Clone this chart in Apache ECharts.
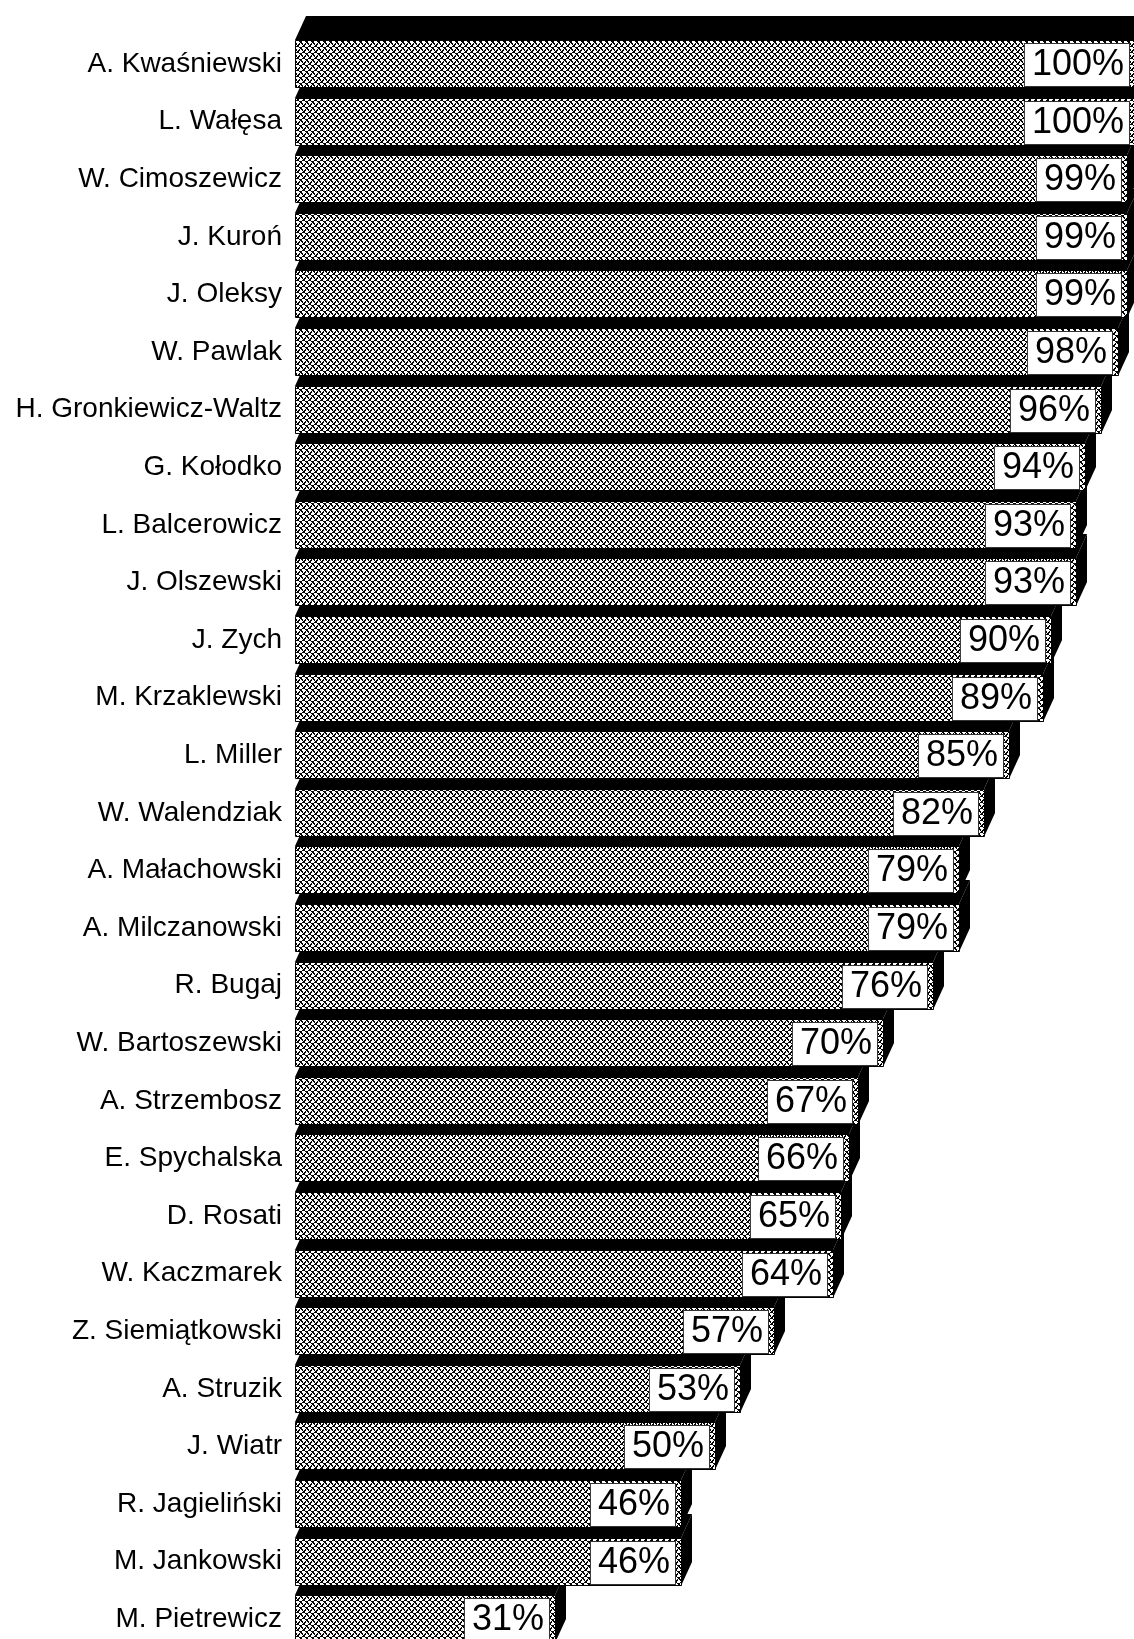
<!DOCTYPE html>
<html>
<head>
<meta charset="utf-8">
<script src="https://cdn.jsdelivr.net/npm/echarts@6/dist/echarts.min.js"></script>
<style>
html,body{margin:0;padding:0;background:#fff;}
#chart{width:1134px;height:1639px;}
</style>
</head>
<body>
<div id="chart"></div>
<script>
var names = ['A. Kwaśniewski','L. Wałęsa','W. Cimoszewicz','J. Kuroń','J. Oleksy','W. Pawlak',
    'H. Gronkiewicz-Waltz','G. Kołodko','L. Balcerowicz','J. Olszewski','J. Zych','M. Krzaklewski',
    'L. Miller','W. Walendziak','A. Małachowski','A. Milczanowski','R. Bugaj','W. Bartoszewski',
    'A. Strzembosz','E. Spychalska','D. Rosati','W. Kaczmarek','Z. Siemiątkowski','A. Struzik',
    'J. Wiatr','R. Jagieliński','M. Jankowski','M. Pietrewicz'];
var values = [100,100,99,99,99,98,96,94,93,93,90,89,85,82,79,79,76,70,67,66,65,64,57,53,50,46,46,31];

// depth of the 3d bars
var DX = 11, DY = 24, BAR_H = 48;

// crosshatch pattern for the front faces, drawn pixel by pixel so it stays crisp
function makeHatch(){
    var n = 6;
    var c = document.createElement('canvas');
    c.width = n; c.height = n;
    var ctx = c.getContext('2d');
    var img = ctx.createImageData(n, n);
    for(var y=0;y<n;y++){
        for(var x=0;x<n;x++){
            var a = (x+y)%n, b = (x-y+n)%n;
            var dark = (a==0 || b==0 || (a==1 && y%2==0) || (b==1 && y%2==1));
            var o = (y*n+x)*4;
            var col = dark ? 0 : 255;
            img.data[o]=col; img.data[o+1]=col; img.data[o+2]=col; img.data[o+3]=255;
        }
    }
    ctx.putImageData(img,0,0);
    return c;
}
var hatch = {image: makeHatch(), repeat: 'repeat'};

var data = [];
for(var i=0;i<values.length;i++){
    data.push([values[i], i]);
}

function renderItem(params, api){
    var idx = api.value(1);
    var v = api.value(0);
    var p0 = api.coord([0, idx]);
    var p1 = api.coord([v, idx]);
    var x0 = Math.round(p0[0]), x1 = Math.round(p1[0]);
    var yT = Math.round(p0[1] - BAR_H/2), yB = yT + BAR_H;
    var zb = (names.length - idx) * 4;
    return {
        type: 'group',
        children: [
            {type:'polygon', z2: zb,
                shape:{points:[[x0,yT],[x1,yT],[x1+DX,yT-DY],[x0+DX,yT-DY]]},
                style:{fill:'#000'}},
            {type:'polygon', z2: zb,
                shape:{points:[[x1,yT],[x1,yB],[x1+DX,yB-DY],[x1+DX,yT-DY]]},
                style:{fill:'#000'}},
            {type:'rect', z2: zb+1,
                shape:{x:x0+0.5, y:yT+0.5, width:x1-x0, height:BAR_H-1},
                style:{fill:hatch, stroke:'#000', lineWidth:1}},
            {type:'text', z2: zb+2, x: x1-6, y: (yT+yB)/2 + 1,
                style:{text: v+'%', align:'right', verticalAlign:'middle',
                    font:'36px "Liberation Sans", Arial, sans-serif', lineHeight: 37,
                    fill:'#000', backgroundColor:'#fff', borderColor:'#333', borderWidth:1,
                    padding:[3,5,2,7]}}
        ]
    };
}

var chart = echarts.init(document.getElementById('chart'));
chart.setOption({
    backgroundColor: '#fff',
    animation: false,
    grid: {left: 295, top: 35.2, width: 840, height: 1612.8, outerBoundsMode: 'none', containLabel: false},
    xAxis: {type:'value', min:0, max:100, show:false},
    yAxis: {
        type:'category', data: names, inverse: true,
        axisLine:{show:false}, axisTick:{show:false}, splitLine:{show:false},
        axisLabel:{color:'#000', fontSize:28, fontFamily:'"Liberation Sans", Arial, sans-serif', margin:13}
    },
    series: [{
        type:'custom',
        renderItem: renderItem,
        encode: {x: 0, y: 1},
        data: data,
        clip: false
    }]
});
</script>
</body>
</html>
